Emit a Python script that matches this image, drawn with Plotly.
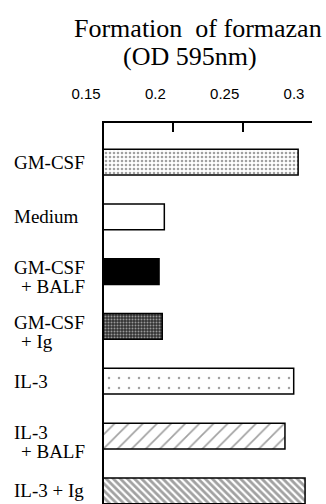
import plotly.graph_objects as go

categories = ["GM-CSF", "Medium", "GM-CSF + BALF", "GM-CSF + Ig", "IL-3", "IL-3 + BALF", "IL-3 + Ig"]
values = [0.290, 0.1935, 0.1897, 0.192, 0.2868, 0.2805, 0.295]
label_lines = [["GM-CSF"], ["Medium"], ["GM-CSF", "+ BALF"], ["GM-CSF", "+ Ig"],
               ["IL-3"], ["IL-3", "+ BALF"], ["IL-3 + Ig"]]
tick_vals = [0.15, 0.2, 0.25, 0.3]
tick_text = ["0.15", "0.2", "0.25", "0.3"]
title_lines = ["Formation  of formazan", "(OD 595nm)"]

# styles
colors = ["white", "white", "black", "#333333", "white", "white", "white"]
shapes = [".", "", "", ".", ".", "/", "\\"]
psizes = [4, 8, 8, 3, 10, 10, 5]
psolid = [0.33, 0.2, 0.2, 0.35, 0.05, 0.17, 0.55]
pfg = ["black", "black", "black", "#c0c0c0", "black", "black", "black"]
pbg = ["white", "white", "black", "#333333", "white", "white", "white"]

SERIF = "Liberation Serif, Times New Roman, serif"

fig = go.Figure()
fig.add_trace(go.Bar(
    y=categories, x=values, orientation="h", width=0.47,
    marker=dict(color=colors, line=dict(color="black", width=1.5),
                pattern=dict(shape=shapes, size=psizes, solidity=psolid,
                             fgcolor=pfg, bgcolor=pbg, fillmode="overlay")),
    showlegend=False,
))

annotations = [
    dict(text=title_lines[0], x=0.452, y=1.247, xref="paper", yref="paper",
         xanchor="center", yanchor="middle", showarrow=False,
         font=dict(family=SERIF, size=26, color="black")),
    dict(text=title_lines[1], x=0.415, y=1.175, xref="paper", yref="paper",
         xanchor="center", yanchor="middle", showarrow=False,
         font=dict(family=SERIF, size=26, color="black")),
]
for cat, lines in zip(categories, label_lines):
    if len(lines) == 1:
        annotations.append(dict(text=lines[0], x=-0.44, y=cat, xref="paper", yref="y",
                                xanchor="left", yanchor="middle", showarrow=False,
                                font=dict(family=SERIF, size=19, color="black")))
    else:
        annotations.append(dict(text=lines[0], x=-0.44, y=cat, xref="paper", yref="y",
                                xanchor="left", yanchor="middle", showarrow=False, yshift=4,
                                font=dict(family=SERIF, size=19, color="black")))
        annotations.append(dict(text=lines[1], x=-0.41, y=cat, xref="paper", yref="y",
                                xanchor="left", yanchor="middle", showarrow=False, yshift=-15,
                                font=dict(family=SERIF, size=19, color="black")))

fig.update_layout(
    width=326, height=504,
    margin=dict(l=104, r=14, t=123, b=0),
    paper_bgcolor="white", plot_bgcolor="white",
    font=dict(family=SERIF, color="black"),
    xaxis=dict(side="top", range=[0.15, 0.3], tickvals=tick_vals, ticktext=tick_text,
               ticks="inside", ticklen=9, tickwidth=1.5, tickcolor="black",
               showline=True, linecolor="black", linewidth=1.5,
               showgrid=False, zeroline=False, ticklabelshift=-18, ticklabelstandoff=16,
               tickfont=dict(family="Liberation Sans", size=15, color="black")),
    yaxis=dict(range=[6.24, -0.712], showticklabels=False, ticks="",
               showline=True, linecolor="black", linewidth=1.5,
               showgrid=False, zeroline=False),
    annotations=annotations,
    bargap=0.5,
)

fig.write_html("out.html", config={"displayModeBar": False},
               post_script="document.body.style.margin='0';document.body.style.overflow='hidden';")
